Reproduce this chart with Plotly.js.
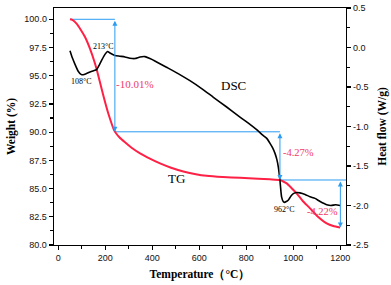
<!DOCTYPE html>
<html>
<head>
<meta charset="utf-8">
<script src="https://cdn.plot.ly/plotly-3.0.1.min.js"></script>
<style>html,body{margin:0;padding:0;background:#fff;}#chart{width:391px;height:285px;}</style>
</head>
<body>
<div id="chart"></div>
<script>
// TG curve (weight %, left axis)
const tgTemp = [50, 60, 78, 95, 114, 135, 156, 170, 185, 200, 213, 228, 236, 245, 260, 284, 312, 348, 390, 433, 480, 532, 580, 631, 700, 773, 850, 900, 943, 955, 972, 990, 1014, 1040, 1071, 1100, 1142, 1170, 1199];
const tgWeight = [100.0, 99.95, 99.62, 99.1, 98.43, 97.4, 96.1, 95.05, 93.8, 92.6, 91.65, 90.7, 90.25, 89.92, 89.55, 89.1, 88.62, 88.12, 87.65, 87.23, 86.85, 86.52, 86.3, 86.13, 86.02, 85.95, 85.88, 85.82, 85.76, 85.65, 85.46, 85.1, 84.58, 83.9, 83.25, 82.6, 81.92, 81.68, 81.55];

// DSC curve (heat flow W/g, right axis)
const dscTemp = [50, 60, 71, 85, 97, 106, 120, 135, 150, 163, 175, 185, 198, 210, 220, 241, 262, 284, 305, 326, 348, 369, 390, 411, 461, 510, 560, 610, 660, 715, 773, 810, 844, 870, 887, 900, 912, 922, 930, 936, 943, 950, 957, 962, 970, 979, 990, 1000, 1014, 1028, 1050, 1071, 1092, 1114, 1142, 1160, 1180, 1199];
const dscHeat = [-0.04, -0.13, -0.21, -0.30, -0.34, -0.345, -0.33, -0.31, -0.295, -0.28, -0.22, -0.16, -0.09, -0.05, -0.07, -0.10, -0.11, -0.12, -0.135, -0.14, -0.12, -0.115, -0.14, -0.17, -0.25, -0.33, -0.42, -0.52, -0.63, -0.75, -0.88, -0.96, -1.04, -1.11, -1.15, -1.21, -1.27, -1.34, -1.42, -1.51, -1.68, -1.89, -1.95, -1.96, -1.95, -1.93, -1.88, -1.85, -1.835, -1.84, -1.86, -1.89, -1.91, -1.95, -1.99, -2.0, -1.99, -2.0];

// Mass-loss steps
const stepTemp = [50, 241, 943, 1200];
const stepLevel = [100.0, 90.03, 85.76, 81.54];
const stepLabels = ["-10.01%", "-4.27%", "-4.22%"];

// Axis ticks
const xTicks = [0, 200, 400, 600, 800, 1000, 1200];
const yTicks = [80, 82.5, 85, 87.5, 90, 92.5, 95, 97.5, 100];
const yTickText = ["80.0", "82.5", "85.0", "87.5", "90.0", "92.5", "95.0", "97.5", "100.0"];
const y2Ticks = [-2.5, -2.0, -1.5, -1.0, -0.5, 0.0, 0.5];
const y2TickText = ["-2.5", "-2.0", "-1.5", "-1.0", "-0.5", "0.0", "0.5"];
const xRange = [-18, 1224];

const RED = "#ff2045";
const PINK = "#f03a6a";
const BLUE = "#2b9cf2";
const SERIF = "Liberation Serif, Times New Roman, serif";
const SANS = "Liberation Sans, Arial, sans-serif";

const traces = [];
// Blue horizontal guide lines
const hx = [[stepTemp[0], stepTemp[1]], [stepTemp[1], stepTemp[2]], [stepTemp[2], xRange[1]]];
for (let i = 0; i < 3; i++) {
  traces.push({x: hx[i], y: [stepLevel[i], stepLevel[i]], mode: "lines", line: {color: BLUE, width: 1}, hoverinfo: "skip", showlegend: false});
}
traces.push({x: tgTemp, y: tgWeight, mode: "lines", line: {color: RED, width: 2, shape: "spline", smoothing: 0.5}, name: "TG", showlegend: false});
traces.push({x: dscTemp, y: dscHeat, yaxis: "y2", mode: "lines", line: {color: "#000", width: 1.6, shape: "spline", smoothing: 0.6}, name: "DSC", showlegend: false});

const annotations = [];
for (let i = 0; i < 3; i++) {
  annotations.push({x: stepTemp[i + 1], y: stepLevel[i + 1], ax: stepTemp[i + 1], ay: stepLevel[i], xref: "x", yref: "y", axref: "x", ayref: "y", text: "", showarrow: true, arrowhead: 2, arrowside: "end+start", arrowsize: 1, arrowwidth: 1, arrowcolor: BLUE, standoff: 0, startstandoff: 0});
}
const lbl = (t, x, y, size, color) => ({x: x, y: y, xref: "x", yref: "y", text: t, showarrow: false, xanchor: "center", yanchor: "middle", font: {family: SERIF, size: size, color: color}});
annotations.push(lbl(stepLabels[0], 326, 94.25, 11, PINK));
annotations.push(lbl(stepLabels[1], 1024, 88.23, 10.5, PINK));
annotations.push(lbl(stepLabels[2], 1122, 83.01, 10.5, PINK));
annotations.push(lbl("108°C", 97, 94.51, 8, "#000"));
annotations.push(lbl("213°C", 192, 97.61, 8, "#000"));
annotations.push(lbl("962°C", 964, 83.19, 8, "#000"));
annotations.push(lbl("DSC", 747, 94.16, 13, "#000"));
annotations.push(lbl("TG", 505, 85.93, 13, "#000"));

const axisCommon = {showgrid: false, zeroline: false, showline: true, linecolor: "#000", linewidth: 1.3, ticks: "outside", ticklen: 4, tickwidth: 1.2, tickcolor: "#000", tickfont: {family: SANS, size: 9, color: "#111"}};

const layout = {
  width: 391, height: 285,
  margin: {l: 54, r: 45, t: 8, b: 40},
  paper_bgcolor: "#fff", plot_bgcolor: "#fff",
  showlegend: false,
  xaxis: Object.assign({}, axisCommon, {range: xRange, tickvals: xTicks, mirror: true, minor: {dtick: 100, tick0: 0, ticks: "outside", ticklen: 2.5, tickcolor: "#000"}, title: {text: "Temperature（°C）", font: {family: SERIF, size: 11.5, color: "#000", weight: "bold"}, standoff: 8}}),
  yaxis: Object.assign({}, axisCommon, {range: [80, 101], tickvals: yTicks, ticktext: yTickText, minor: {dtick: 1.25, tick0: 80, ticks: "outside", ticklen: 2.5, tickcolor: "#000"}, title: {text: "Weight (%)", font: {family: SERIF, size: 11.5, color: "#000", weight: "bold"}, standoff: 6}}),
  yaxis2: Object.assign({}, axisCommon, {overlaying: "y", side: "right", range: [-2.5, 0.5], tickvals: y2Ticks, ticktext: y2TickText, minor: {dtick: 0.25, tick0: -2.5, ticks: "outside", ticklen: 2.5, tickcolor: "#000"}, title: {text: "Heat flow (W/g)", font: {family: SERIF, size: 11.5, color: "#000", weight: "bold"}, standoff: 10}}),
  annotations: annotations
};

Plotly.newPlot("chart", traces, layout, {staticPlot: true, displayModeBar: false});
</script>
</body>
</html>
